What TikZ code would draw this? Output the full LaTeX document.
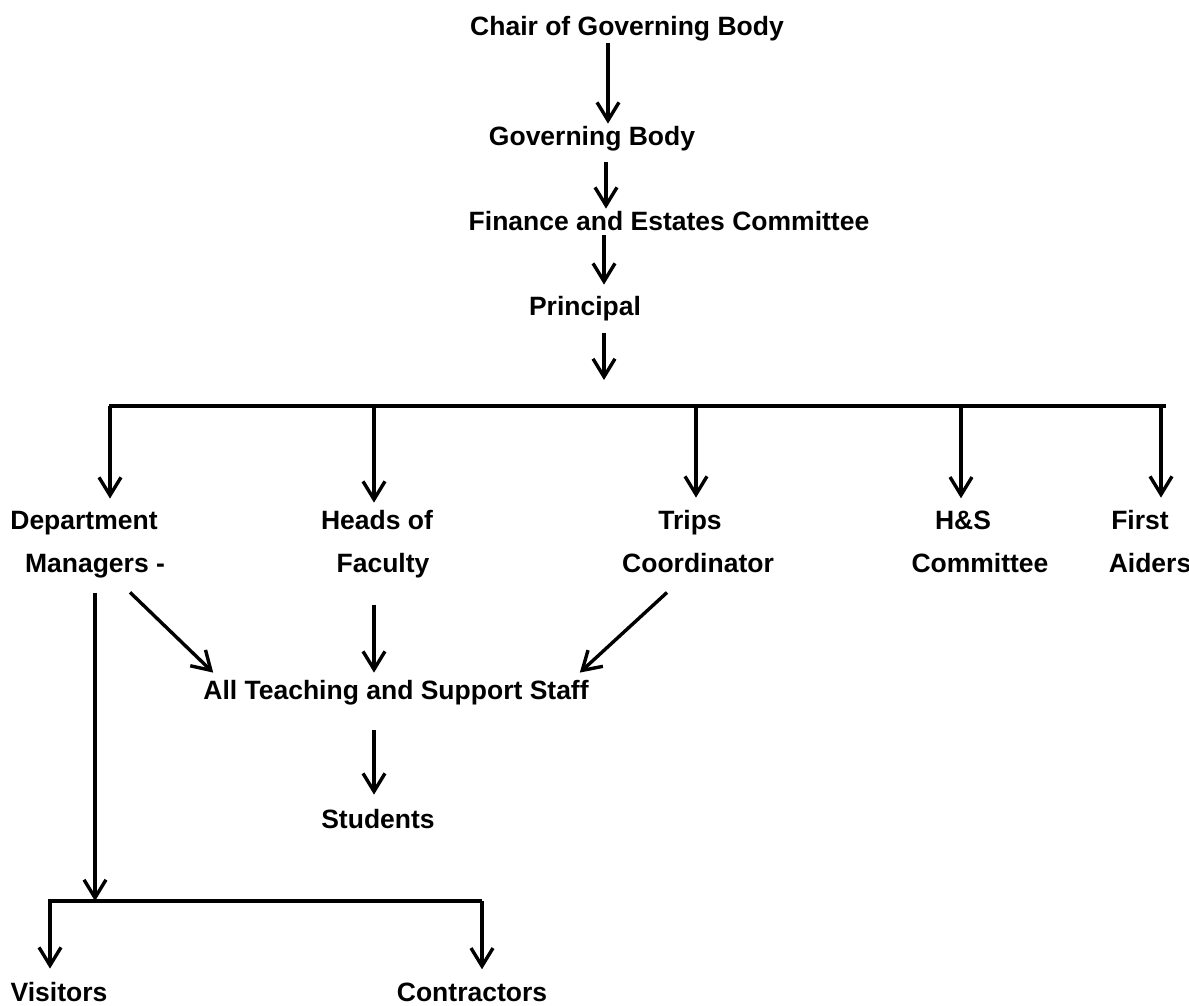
\documentclass[tikz,border=0pt]{standalone}
\usepackage{fontspec}
\setmainfont{Liberation Sans}
\usetikzlibrary{arrows.meta}
\begin{document}
\begin{tikzpicture}[x=1pt,y=-1pt,
  lbl/.style={font=\bfseries\fontsize{26.5}{30}\selectfont, inner sep=2pt, anchor=base},
  arr/.style={line width=3.4pt, -{Straight Barb[length=18pt,width=22pt]}},
  barline/.style={line width=4pt}]
\useasboundingbox (0,0) rectangle (1189,1005);

% labels
\node[lbl] (chair) at (627,35) {Chair of Governing Body};
\node[lbl] (gov) at (592,145) {Governing Body};
\node[lbl] (fin) at (669,230) {Finance and Estates Committee};
\node[lbl] (prin) at (585,315) {Principal};

\node[lbl] (dept1) at (84,529) {Department};
\node[lbl] (dept2) at (95,572) {Managers -};
\node[lbl] (heads1) at (377,529) {Heads of};
\node[lbl] (heads2) at (383,572) {Faculty};
\node[lbl] (trips1) at (690,529) {Trips};
\node[lbl] (trips2) at (698,572) {Coordinator};
\node[lbl] (hs1) at (963,529) {H\&S};
\node[lbl] (hs2) at (980,572) {Committee};
\node[lbl] (fa1) at (1140,529) {First};
\node[lbl] (fa2) at (1150,572) {Aiders};

\node[lbl] (all) at (396,699) {All Teaching and Support Staff};
\node[lbl] (stud) at (378,828) {Students};
\node[lbl] (vis) at (59,1001) {Visitors};
\node[lbl] (con) at (472,1001) {Contractors};

% helper coordinates
\coordinate (s1) at (608,0);
\coordinate (s2) at (606,0);
\coordinate (jP) at (604,406);
\coordinate (b1L) at (109,406);
\coordinate (b1R) at (1166,406);
\coordinate (jD) at (110,406);
\coordinate (jH) at (374,406);
\coordinate (jT) at (696,406);
\coordinate (jS) at (961,406);
\coordinate (jF) at (1161,406);
\coordinate (jM) at (95,901);
\coordinate (b2L) at (48,901);
\coordinate (b2R) at (482,901);
\coordinate (jV) at (50,901);
\coordinate (jC) at (482,901);

% spine
\draw[arr] (chair.south -| s1) -- (gov.north -| s1);
\draw[arr, shorten <=9pt] (gov.south -| s2) -- (fin.north -| s2);
\draw[arr, shorten <=3pt, shorten >=9pt] (fin.south -| jP) -- (prin.north -| jP);
\draw[arr, shorten <=10pt, shorten >=26pt] (prin.south -| jP) -- (jP);

% top bar and drops
\draw[barline] (b1L) -- (b1R);
\draw[arr, shorten >=10pt] (jD) -- (jD |- dept1.north);
\draw[arr, shorten >=5pt] (jH) -- (jH |- heads1.north);
\draw[arr, shorten >=10pt] (jT) -- (jT |- trips1.north);
\draw[arr, shorten >=10pt] (jS) -- (jS |- hs1.north);
\draw[arr, shorten >=10pt] (jF) -- (jF |- fa1.north);

% to staff
\draw[arr] ([xshift=35pt,yshift=-12.5pt]dept2.south) -- ([xshift=12pt,yshift=5pt]all.north west);
\draw[arr, shorten <=25pt, shorten >=5pt] (heads2.south -| jH) -- (all.north -| jH);
\draw[arr] ([xshift=-31pt,yshift=-18pt]trips2.south) -- ([xshift=-11pt,yshift=5pt]all.north east);
\draw[arr, shorten <=23pt, shorten >=12pt] (all.south -| jH) -- (stud.north -| jH);

% visitors / contractors
\draw[arr, shorten <=13pt] (dept2.south -| jM) -- (jM);
\draw[barline] (b2L) -- (b2R);
\draw[arr, shorten >=11pt] (jV) -- (jV |- vis.north);
\draw[arr, shorten >=11pt] (jC) -- (jC |- con.north);
\end{tikzpicture}
\end{document}
